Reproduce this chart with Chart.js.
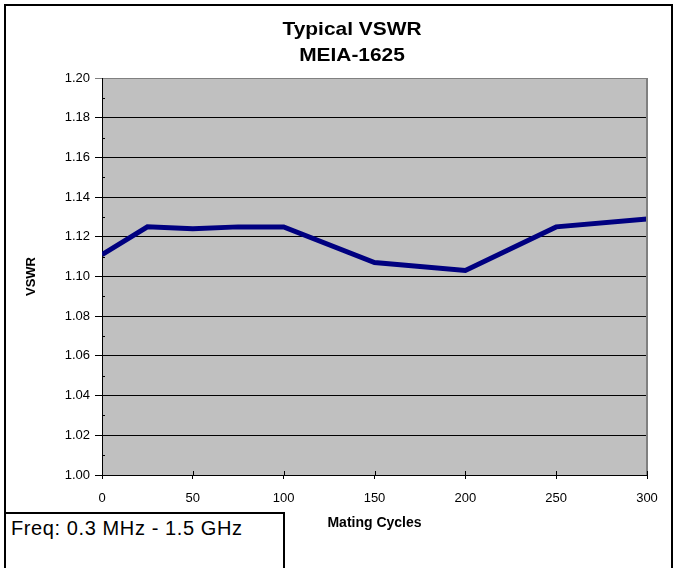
<!DOCTYPE html>
<html>
<head>
<meta charset="utf-8">
<script src="https://cdn.jsdelivr.net/npm/chart.js@4.4.0/dist/chart.umd.min.js"></script>
<style>
  body { margin: 0; background: #fff; }
  #wrap { position: relative; width: 675px; height: 568px; overflow: hidden; }
  #frame { position: absolute; left: 4px; top: 4px; width: 665px; height: 600px; border: 2px solid #000; }
  #freq { position: absolute; left: 4px; top: 512px; width: 281px; height: 70px; border: 2px solid #000;
          font: 20px "Liberation Sans", Arial, sans-serif; line-height: 23px; letter-spacing: 0.6px;
          padding: 3px 0 0 5px; box-sizing: border-box; background: #fff; }
  canvas { position: absolute; left: 0; top: 0; }
</style>
</head>
<body>
<div id="wrap">
  <div id="frame"></div>
  <canvas id="vswrChart" width="675" height="568"></canvas>
  <div id="freq">Freq: 0.3 MHz - 1.5 GHz</div>
</div>
<script>
  // data
  var cycles = [0, 25, 50, 75, 100, 150, 200, 250, 300];
  var vswr = [1.111, 1.125, 1.124, 1.125, 1.125, 1.107, 1.103, 1.125, 1.129];
  var titleLines = ['Typical VSWR', 'MEIA-1625'];

  var FONT = '"Liberation Sans", Arial, sans-serif';

  var chartDeco = {
    id: 'chartDeco',
    beforeDraw: function(chart) {
      var a = chart.chartArea, c = chart.ctx;
      c.save();
      c.fillStyle = '#c0c0c0';
      c.fillRect(a.left, a.top, a.right - a.left, a.bottom - a.top);
      c.restore();
    },
    afterDraw: function(chart) {
      var a = chart.chartArea, c = chart.ctx;
      var y = chart.scales.y, x = chart.scales.x;
      c.save();
      // right border of plot
      c.strokeStyle = '#808080';
      c.lineWidth = 2;
      c.beginPath();
      c.moveTo(a.right, a.top);
      c.lineTo(a.right, a.bottom);
      c.stroke();
      // minor ticks on y, and x ticks crossing the axis
      c.strokeStyle = '#000';
      c.lineWidth = 1;
      c.beginPath();
      for (var v = 1.01; v < 1.2; v += 0.02) {
        var py = Math.round(y.getPixelForValue(v)) + 0.5;
        c.moveTo(a.left, py);
        c.lineTo(a.left + 3, py);
      }
      for (var t = 0; t <= 300; t += 50) {
        var px = Math.round(x.getPixelForValue(t)) + 0.5;
        c.moveTo(px, a.bottom - 4);
        c.lineTo(px, a.bottom);
      }
      c.stroke();
      // two-line title, a touch wide like the original
      c.fillStyle = '#000';
      c.font = 'bold 19px ' + FONT;
      c.textAlign = 'center';
      c.textBaseline = 'middle';
      c.translate(352, 0);
      c.scale(1.1, 1);
      c.fillText(titleLines[0], 0, 29.5);
      c.fillText(titleLines[1], 0, 55.5);
      c.restore();
    }
  };

  var points = cycles.map(function(cx, i) { return { x: cx, y: vswr[i] }; });

  new Chart(document.getElementById('vswrChart').getContext('2d'), {
    type: 'line',
    data: {
      datasets: [{
        data: points,
        borderColor: '#000080',
        borderWidth: 5,
        pointRadius: 0,
        tension: 0,
        fill: false
      }]
    },
    options: {
      responsive: false,
      animation: false,
      layout: { padding: { top: 78, right: 28, bottom: 0, left: 0 } },
      plugins: {
        legend: { display: false },
        title: { display: false },
        tooltip: { enabled: false }
      },
      scales: {
        x: {
          type: 'linear',
          min: 0,
          max: 300,
          ticks: { stepSize: 50, color: '#000', font: { family: FONT, size: 13 }, padding: 12, maxRotation: 0 },
          grid: { drawOnChartArea: false, drawTicks: true, tickLength: 4, color: '#000' },
          border: { color: '#000', width: 1 },
          title: { display: true, text: 'Mating Cycles', color: '#000', font: { family: FONT, size: 14, weight: 'bold' }, padding: { top: 0, bottom: 36.6 } },
          afterFit: function(s) { s.height = 93; }
        },
        y: {
          min: 1.0,
          max: 1.2,
          ticks: {
            stepSize: 0.02, color: '#000', font: { family: FONT, size: 13 }, padding: 5,
            callback: function(v) { return v.toFixed(2); }
          },
          grid: {
            tickLength: 7,
            color: function(ctx) { return ctx.tick && Math.abs(ctx.tick.value - 1.2) < 1e-6 ? '#808080' : '#000'; },
            lineWidth: 1
          },
          border: { color: '#000', width: 1 },
          title: { display: true, text: 'VSWR', color: '#000', font: { family: FONT, size: 13, weight: 'bold' }, padding: { top: 24, bottom: 0 } },
          afterFit: function(s) { s.width = 102; }
        }
      }
    },
    plugins: [chartDeco]
  });
</script>
</body>
</html>
